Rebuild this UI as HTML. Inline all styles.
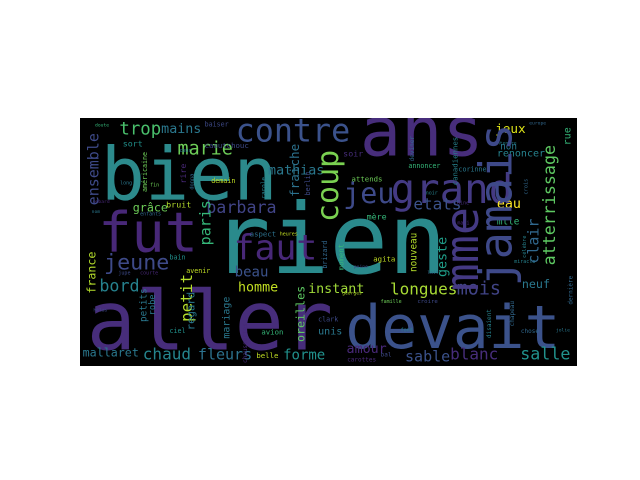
<!DOCTYPE html>
<html><head><meta charset="utf-8">
<style>
html,body{margin:0;padding:0;background:#fff;width:640px;height:480px;overflow:hidden}
svg{position:absolute;left:80px;top:118px}
text{font-family:"DejaVu Sans Mono","Liberation Mono",monospace}
</style></head><body>
<svg width="497" height="248" viewBox="0 0 1488 744" preserveAspectRatio="none">
<rect x="0" y="0" width="1488" height="744" fill="#000"/>
<text x="62" y="245" font-size="220" fill="#2c8a8c">bien</text>
<text x="395" y="465" font-size="292" fill="#2a8a8c">rien</text>
<text x="55" y="400" font-size="165" fill="#482878">fut</text>
<text x="20" y="695" font-size="245" fill="#472d7b">aller</text>
<text x="795" y="690" font-size="178" fill="#3b528b">devait</text>
<text x="838" y="112" font-size="205" fill="#472d7b">ans</text>
<text x="930" y="255" font-size="122" fill="#443a83">grand</text>
<text x="466" y="70" font-size="95" fill="#3b528b">contre</text>
<text x="788" y="255" font-size="85" fill="#3e4a89">jeu</text>
<text x="460" y="425" font-size="104" fill="#482878">faut</text>
<text x="72" y="455" font-size="65" fill="#3e4a89">jeune</text>
<text x="292" y="110" font-size="55" fill="#6ece58">marie</text>
<text x="118" y="50" font-size="52" fill="#4ac16d">trop</text>
<text x="243" y="45" font-size="40" fill="#2a788e">mains</text>
<text x="378" y="285" font-size="50" fill="#414487">barbara</text>
<text x="158" y="280" font-size="35" fill="#6ece58">grâce</text>
<text x="258" y="268" font-size="25" fill="#b5de2b">bruit</text>
<text x="563" y="170" font-size="40" fill="#2a788e">mathias</text>
<text x="998" y="275" font-size="48" fill="#3b528b">etats</text>
<text x="1248" y="270" font-size="40" fill="#fde725">eau</text>
<text x="1243" y="45" font-size="38" fill="#dde318">jeux</text>
<text x="1258" y="95" font-size="28" fill="#2a788e">non</text>
<text x="1248" y="115" font-size="30" fill="#26828e">renoncer</text>
<text x="928" y="530" font-size="48" fill="#a8db34">longues</text>
<text x="1128" y="530" font-size="55" fill="#414487">mois</text>
<text x="1323" y="510" font-size="35" fill="#2a788e">neuf</text>
<text x="683" y="525" font-size="40" fill="#a0da39">instant</text>
<text x="473" y="520" font-size="40" fill="#c2df23">homme</text>
<text x="58" y="520" font-size="50" fill="#26828e">bord</text>
<text x="463" y="475" font-size="42" fill="#3b528b">beau</text>
<text x="798" y="705" font-size="40" fill="#482878">amour</text>
<text x="973" y="730" font-size="45" fill="#3b528b">sable</text>
<text x="1108" y="725" font-size="48" fill="#472d7b">blanc</text>
<text x="1318" y="725" font-size="50" fill="#21918c">salle</text>
<text x="608" y="725" font-size="42" fill="#21918c">forme</text>
<text x="188" y="725" font-size="48" fill="#25858e">chaud</text>
<text x="353" y="725" font-size="45" fill="#2c728e">fleurs</text>
<text x="8" y="715" font-size="35" fill="#2a788e">mallaret</text>
<text x="528" y="720" font-size="22" fill="#c2df23">belle</text>
<text x="713" y="650" font-size="30" fill="#2a788e">unis</text>
<text x="543" y="650" font-size="22" fill="#35b779">avion</text>
<text x="268" y="645" font-size="20" fill="#21918c">ciel</text>
<text x="713" y="610" font-size="20" fill="#3e4a89">clark</text>
<text x="878" y="430" font-size="22" fill="#c2df23">agita</text>
<text x="858" y="305" font-size="25" fill="#35b779">mère</text>
<text x="1248" y="320" font-size="28" fill="#35b779">mlle</text>
<text x="983" y="150" font-size="20" fill="#35b779">annoncer</text>
<text x="813" y="190" font-size="22" fill="#6ece58">attends</text>
<text x="788" y="115" font-size="25" fill="#472d7b">soir</text>
<text x="128" y="85" font-size="25" fill="#21918c">sort</text>
<text x="1133" y="160" font-size="20" fill="#2a788e">corinne</text>
<text x="508" y="355" font-size="22" fill="#2c728e">aspect</text>
<text x="598" y="352" font-size="15" fill="#c2df23">heures</text>
<text x="318" y="465" font-size="20" fill="#c2df23">avenir</text>
<text x="268" y="425" font-size="20" fill="#21918c">bain</text>
<text x="393" y="195" font-size="20" fill="#c2df23">demain</text>
<text x="373" y="90" font-size="22" fill="#3e4a89">caoutchouc</text>
<text x="373" y="25" font-size="20" fill="#3e4a89">baiser</text>
<text x="45" y="25" font-size="14" fill="#35b779">doute</text>
<text x="298" y="102" font-size="15" fill="#2a788e">cœur</text>
<text x="1345" y="20" font-size="14" fill="#31688e">europe</text>
<text x="1240" y="80" font-size="14" fill="#26828e">entendre</text>
<text x="180" y="292" font-size="15" fill="#31688e">enfants</text>
<text x="120" y="200" font-size="15" fill="#2a788e">long</text>
<text x="210" y="205" font-size="15" fill="#6ece58">fin</text>
<text x="35" y="285" font-size="14" fill="#2a788e">nom</text>
<text x="30" y="255" font-size="14" fill="#482878">lombard</text>
<text x="115" y="470" font-size="15" fill="#3e4a89">jupe</text>
<text x="180" y="470" font-size="15" fill="#482878">courte</text>
<text x="40" y="580" font-size="14" fill="#3e4a89">hélas</text>
<text x="960" y="640" font-size="15" fill="#26828e">fond</text>
<text x="900" y="715" font-size="18" fill="#3e4a89">bal</text>
<text x="800" y="730" font-size="18" fill="#482878">carottes</text>
<text x="1320" y="645" font-size="18" fill="#31688e">chose</text>
<text x="1010" y="555" font-size="17" fill="#3e4a89">croire</text>
<text x="900" y="555" font-size="15" fill="#6ece58">famille</text>
<text x="785" y="530" font-size="14" fill="#b5de2b">georges</text>
<text x="1300" y="435" font-size="15" fill="#26828e">miracle</text>
<text x="1425" y="640" font-size="14" fill="#2a788e">jolie</text>
<text x="1040" y="468" font-size="14" fill="#31688e">lait</text>
<text x="820" y="450" font-size="14" fill="#3e4a89">peine</text>
<text x="1035" y="230" font-size="15" fill="#26828e">noir</text>
<text x="1120" y="260" font-size="15" fill="#472d7b">laine</text>
<text x="1130" y="320" font-size="15" fill="#482878">mari</text>
<g>
<text transform="translate(1292,505) rotate(-90)" font-size="135" fill="#3e4989">jamais</text>
<text transform="translate(1192,520) rotate(-90)" font-size="140" fill="#443983">mme</text>
<text transform="translate(773,312) rotate(-90)" font-size="90" fill="#7ad151">coup</text>
<text transform="translate(55,262) rotate(-90)" font-size="45" fill="#3e4a89">ensemble</text>
<text transform="translate(391,382) rotate(-90)" font-size="45" fill="#35b779">paris</text>
<text transform="translate(656,237) rotate(-90)" font-size="38" fill="#2c728e">fraiche</text>
<text transform="translate(1422,442) rotate(-90)" font-size="50" fill="#5ec962">atterrissage</text>
<text transform="translate(1468,82) rotate(-90)" font-size="30" fill="#35b779">rue</text>
<text transform="translate(1372,437) rotate(-90)" font-size="45" fill="#31688e">clair</text>
<text transform="translate(1098,477) rotate(-90)" font-size="40" fill="#1f9e89">geste</text>
<text transform="translate(1008,462) rotate(-90)" font-size="28" fill="#b5de2b">nouveau</text>
<text transform="translate(336,612) rotate(-90)" font-size="48" fill="#b5de2b">petit</text>
<text transform="translate(47,527) rotate(-90)" font-size="35" fill="#b5de2b">france</text>
<text transform="translate(672,672) rotate(-90)" font-size="35" fill="#5ec962">oreilles</text>
<text transform="translate(199,612) rotate(-90)" font-size="28" fill="#2a788e">petits</text>
<text transform="translate(224,592) rotate(-90)" font-size="26" fill="#2a788e">robe</text>
<text transform="translate(343,637) rotate(-90)" font-size="32" fill="#2a788e">regard</text>
<text transform="translate(448,662) rotate(-90)" font-size="30" fill="#2a788e">mariage</text>
<text transform="translate(789,457) rotate(-90)" font-size="22" fill="#35b779">moment</text>
<text transform="translate(1130,202) rotate(-90)" font-size="22" fill="#26828e">canadiennes</text>
<text transform="translate(318,197) rotate(-90)" font-size="25" fill="#482878">rire</text>
<text transform="translate(688,232) rotate(-90)" font-size="20" fill="#3e4a89">berlin</text>
<text transform="translate(740,452) rotate(-90)" font-size="20" fill="#31688e">brizard</text>
<text transform="translate(200,222) rotate(-90)" font-size="20" fill="#6ece58">américaine</text>
<text transform="translate(555,242) rotate(-90)" font-size="18" fill="#26828e">carole</text>
<text transform="translate(340,215) rotate(-90)" font-size="16" fill="#31688e">donna</text>
<text transform="translate(1000,130) rotate(-90)" font-size="18" fill="#31688e">deviner</text>
<text transform="translate(500,735) rotate(-90)" font-size="18" fill="#482878">chaussettes</text>
<text transform="translate(1300,625) rotate(-90)" font-size="18" fill="#31688e">chapeau</text>
<text transform="translate(1230,660) rotate(-90)" font-size="18" fill="#26828e">disaient</text>
<text transform="translate(1475,560) rotate(-90)" font-size="18" fill="#31688e">dernière</text>
<text transform="translate(1335,420) rotate(-90)" font-size="16" fill="#26828e">célèbre</text>
<text transform="translate(1340,230) rotate(-90)" font-size="16" fill="#31688e">crois</text>
</g>
</svg>
</body></html>
